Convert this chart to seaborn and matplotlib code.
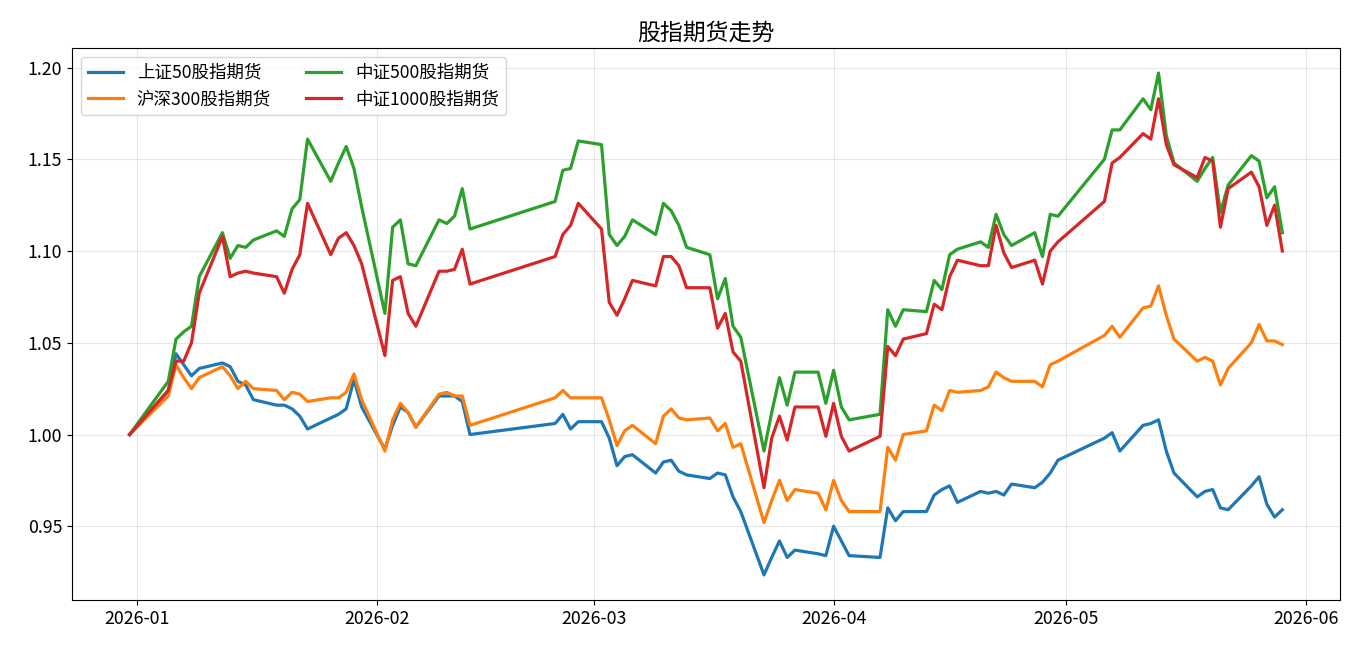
import pandas as pd
import matplotlib
matplotlib.use("Agg")
import matplotlib.pyplot as plt
import matplotlib.dates as mdates
import seaborn as sns

# trading calendar (exchange holidays removed)
holidays = ['2026-01-01', '2026-01-02',
            '2026-02-16', '2026-02-17', '2026-02-18', '2026-02-19', '2026-02-20', '2026-02-23',
            '2026-04-06', '2026-05-01', '2026-05-04', '2026-05-05']
dates = pd.bdate_range('2025-12-31', '2026-05-29', freq='C', holidays=holidays)

names = ['上证50股指期货', '沪深300股指期货', '中证500股指期货', '中证1000股指期货']

sz50 = [1.000,
        1.024, 1.044, 1.038, 1.032, 1.036, 1.039, 1.037, 1.029, 1.027, 1.019,
        1.016, 1.016, 1.014, 1.010, 1.003, 1.009, 1.011, 1.014, 1.030, 1.015,
        0.992, 1.005, 1.015, 1.012, 1.004, 1.021, 1.021, 1.021, 1.018, 1.000,
        1.006, 1.011, 1.003, 1.007,
        1.007, 0.998, 0.983, 0.988, 0.989, 0.979, 0.985, 0.986, 0.980, 0.978,
        0.976, 0.979, 0.978, 0.966, 0.958, 0.9235, 0.933, 0.942, 0.933, 0.937,
        0.935, 0.934,
        0.950, 0.942, 0.934, 0.933, 0.960, 0.953, 0.958, 0.958, 0.967, 0.970,
        0.972, 0.963, 0.969, 0.968, 0.969, 0.967, 0.973, 0.971, 0.974, 0.979, 0.986,
        0.998, 1.001, 0.991, 1.005, 1.006, 1.008, 0.991, 0.979, 0.966, 0.969,
        0.970, 0.960, 0.959, 0.972, 0.977, 0.962, 0.955, 0.959]

hs300 = [1.000,
         1.021, 1.038, 1.031, 1.025, 1.031, 1.037, 1.032, 1.025, 1.029, 1.025,
         1.024, 1.019, 1.023, 1.022, 1.018, 1.020, 1.020, 1.023, 1.033, 1.019,
         0.991, 1.008, 1.017, 1.012, 1.004, 1.022, 1.023, 1.021, 1.021, 1.005,
         1.020, 1.024, 1.020, 1.020,
         1.020, 1.008, 0.994, 1.002, 1.005, 0.995, 1.010, 1.014, 1.009, 1.008,
         1.009, 1.002, 1.006, 0.993, 0.995, 0.952, 0.964, 0.975, 0.964, 0.970,
         0.968, 0.959,
         0.975, 0.964, 0.958, 0.958, 0.993, 0.986, 1.000, 1.002, 1.016, 1.013,
         1.024, 1.023, 1.024, 1.026, 1.034, 1.031, 1.029, 1.029, 1.026, 1.038, 1.040,
         1.054, 1.059, 1.053, 1.069, 1.070, 1.081, 1.065, 1.052, 1.040, 1.042,
         1.040, 1.027, 1.036, 1.050, 1.060, 1.051, 1.051, 1.049]

zz500 = [1.000,
         1.029, 1.052, 1.056, 1.059, 1.086, 1.110, 1.096, 1.103, 1.102, 1.106,
         1.111, 1.108, 1.123, 1.128, 1.161, 1.138, 1.148, 1.157, 1.145, 1.124,
         1.066, 1.113, 1.117, 1.093, 1.092, 1.117, 1.115, 1.119, 1.134, 1.112,
         1.127, 1.144, 1.145, 1.160,
         1.158, 1.109, 1.103, 1.108, 1.117, 1.109, 1.126, 1.122, 1.114, 1.102,
         1.098, 1.074, 1.085, 1.059, 1.053, 0.991, 1.012, 1.031, 1.016, 1.034,
         1.034, 1.017,
         1.035, 1.015, 1.008, 1.011, 1.068, 1.059, 1.068, 1.067, 1.084, 1.079,
         1.098, 1.101, 1.105, 1.102, 1.120, 1.109, 1.103, 1.110, 1.097, 1.120, 1.119,
         1.150, 1.166, 1.166, 1.183, 1.177, 1.197, 1.163, 1.148, 1.138, 1.145,
         1.151, 1.121, 1.136, 1.152, 1.149, 1.129, 1.135, 1.110]

zz1000 = [1.000,
          1.024, 1.040, 1.040, 1.050, 1.077, 1.108, 1.086, 1.088, 1.089, 1.088,
          1.086, 1.077, 1.090, 1.098, 1.126, 1.098, 1.107, 1.110, 1.103, 1.093,
          1.043, 1.084, 1.086, 1.066, 1.059, 1.089, 1.089, 1.090, 1.101, 1.082,
          1.097, 1.109, 1.114, 1.126,
          1.112, 1.072, 1.065, 1.074, 1.084, 1.081, 1.097, 1.097, 1.092, 1.080,
          1.080, 1.058, 1.066, 1.045, 1.040, 0.971, 0.998, 1.010, 0.997, 1.015,
          1.015, 0.999,
          1.017, 0.999, 0.991, 0.999, 1.048, 1.043, 1.052, 1.055, 1.071, 1.068,
          1.086, 1.095, 1.092, 1.092, 1.114, 1.099, 1.091, 1.095, 1.082, 1.100, 1.105,
          1.127, 1.148, 1.151, 1.164, 1.161, 1.183, 1.158, 1.147, 1.140, 1.151,
          1.149, 1.113, 1.134, 1.143, 1.135, 1.114, 1.125, 1.100]

df = pd.DataFrame({'date': dates, names[0]: sz50, names[1]: hs300,
                   names[2]: zz500, names[3]: zz1000})
long_df = df.melt(id_vars='date', var_name='品种', value_name='净值')

plt.rcParams['font.family'] = ['Noto Sans CJK SC', 'DejaVu Sans']
plt.rcParams['axes.unicode_minus'] = False

fig, ax = plt.subplots(figsize=(13.68, 6.57), dpi=100)
sns.lineplot(data=long_df, x='date', y='净值', hue='品种', hue_order=names,
             palette=['#1f77b4', '#ff7f0e', '#2ca02c', '#d62728'],
             linewidth=2.3, ax=ax)

ax.set_title('股指期货走势', fontsize=16.5)
ax.set_xlabel('')
ax.set_ylabel('')
ax.xaxis.set_major_locator(mdates.MonthLocator())
ax.xaxis.set_major_formatter(mdates.DateFormatter('%Y-%m'))
ax.tick_params(labelsize=12.8)
ax.grid(True, alpha=0.3)
ax.legend(loc='upper left', ncol=2, fontsize=12.6, title=None)

plt.subplots_adjust(left=0.0526, right=0.9795, top=0.927, bottom=0.0868)
plt.savefig('out.png', dpi=100)
